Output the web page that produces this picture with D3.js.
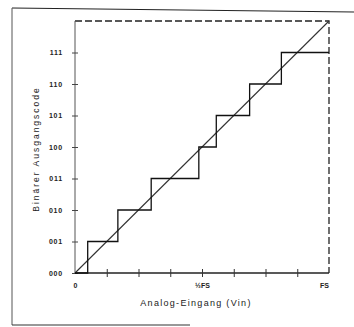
<!DOCTYPE html>
<html>
<head>
<meta charset="utf-8">
<script src="https://cdn.jsdelivr.net/npm/d3@7/dist/d3.min.js"></script>
<style>
  html, body { margin: 0; padding: 0; background: #fff; }
  svg { display: block; }
  text { font-family: "Liberation Sans", Arial, sans-serif; fill: #222; }
</style>
</head>
<body>
<svg id="chart" width="354" height="327"></svg>
<script>
// Output codes of a 3-bit converter (y axis labels, one per step)
const codes = ["000", "001", "010", "011", "100", "101", "110", "111"];
// Input levels (in LSB) at which the output steps to the next code
const transitions = [0.4, 1.35, 2.4, 3.9, 4.45, 5.5, 6.5];
// Input axis: tick positions (LSB) and the labelled ones
const xTickValues = [0, 1, 2, 3, 4, 5, 6, 7, 8];
const xTickLabels = { 0: "0", 4: "½FS", 8: "FS" };
const fullScale = 8;

const svg = d3.select("#chart");
const x = d3.scaleLinear().domain([0, fullScale]).range([75, 329]);
const y = d3.scaleLinear().domain([0, fullScale]).range([273, 21]);

// page frame (top, left, bottom edges)
const frame = d3.line();
svg.append("path")
  .attr("d", frame([[12, 8], [354, 12]]))
  .attr("stroke", "#222").attr("stroke-width", 1.2).attr("fill", "none");
svg.append("path")
  .attr("d", frame([[12, 8], [12, 325]]))
  .attr("stroke", "#555").attr("stroke-width", 1).attr("fill", "none");
svg.append("path")
  .attr("d", frame([[12, 325], [190, 325]]))
  .attr("stroke", "#333").attr("stroke-width", 1.2).attr("fill", "none");

// dashed full-scale box (top and right)
svg.append("path")
  .attr("d", d3.line()([[x(0), y(fullScale)], [x(fullScale), y(fullScale)], [x(fullScale), y(0)]]))
  .attr("stroke", "#222").attr("stroke-width", 1.3).attr("fill", "none")
  .attr("stroke-dasharray", "7,3");

// y axis with codes
const yAxis = d3.axisLeft(y)
  .tickValues(d3.range(codes.length))
  .tickFormat(i => codes[i])
  .tickSize(3).tickPadding(9);
const gy = svg.append("g").attr("transform", `translate(${x(0)},0)`).call(yAxis);
gy.select(".domain").attr("d", `M0,${y(0)}V${y(fullScale)}`).attr("stroke", "#555");
gy.selectAll(".tick line").attr("x1", -3).attr("x2", 3).attr("stroke", "#444");
gy.selectAll(".tick text")
  .style("font-size", "7px").style("font-weight", "bold").style("letter-spacing", "0.8px")
  .attr("fill", "#333");

// x axis
const xAxis = d3.axisBottom(x)
  .tickValues(xTickValues)
  .tickFormat(v => xTickLabels[v] || "")
  .tickSize(4).tickPadding(6);
const gx = svg.append("g").attr("transform", `translate(0,${y(0)})`).call(xAxis);
gx.select(".domain").attr("d", `M${x(0)},0H${x(fullScale)}`).attr("stroke", "#222").attr("stroke-width", 1.3);
gx.selectAll(".tick line").attr("y1", -4).attr("y2", 4).attr("stroke", "#333");
gx.selectAll(".tick").filter(v => v === 0 || v === fullScale).select("line").remove();
gx.selectAll(".tick text").style("font-size", "7px").style("font-weight", "bold").attr("fill", "#333");
gx.selectAll(".tick").filter(v => v === fullScale).select("text").attr("dx", -5);

// ideal transfer line
svg.append("line")
  .attr("x1", x(0)).attr("y1", y(0))
  .attr("x2", x(fullScale)).attr("y2", y(fullScale))
  .attr("stroke", "#333").attr("stroke-width", 1.1);

// quantized staircase
const steps = [[0, 0]];
transitions.forEach((t, i) => { steps.push([t, i]); steps.push([t, i + 1]); });
steps.push([fullScale, codes.length - 1]);
svg.append("path")
  .attr("d", d3.line().x(d => x(d[0])).y(d => y(d[1]))(steps))
  .attr("stroke", "#111").attr("stroke-width", 1.3).attr("fill", "none");

// axis titles
svg.append("text")
  .attr("x", 196).attr("y", 306)
  .attr("text-anchor", "middle")
  .style("font-size", "9px").style("letter-spacing", "1.3px")
  .text("Analog-Eingang (Vin)");
svg.append("text")
  .attr("transform", "translate(39,149) rotate(-90)")
  .attr("text-anchor", "middle")
  .style("font-size", "8.5px").style("letter-spacing", "2px")
  .text("Binärer Ausgangscode");
</script>
</body>
</html>
